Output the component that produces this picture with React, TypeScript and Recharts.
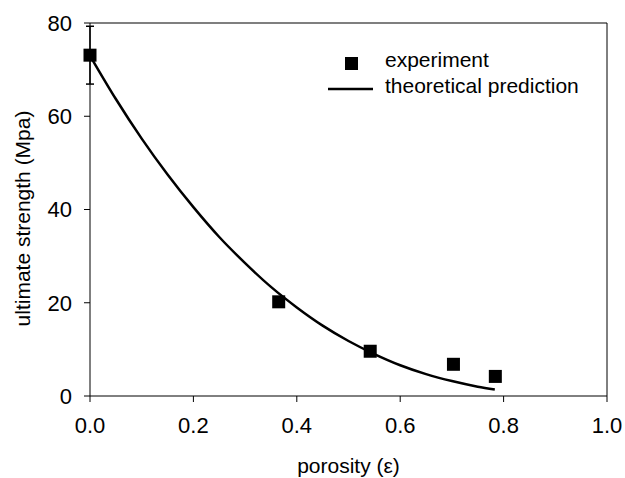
import {
  ComposedChart,
  ErrorBar,
  Label,
  Legend,
  Line,
  ReferenceLine,
  Scatter,
  XAxis,
  YAxis,
} from "recharts";

const xTicks = [0, 0.2, 0.4, 0.6, 0.8, 1.0];
const yTicks = [0, 20, 40, 60, 80];

// measured points
const experimentPorosity = [0, 0.365, 0.542, 0.703, 0.784];
const experimentStrength = [73.1, 20.2, 9.6, 6.8, 4.2];
const experimentError = [6.2, 0, 0, 0, 0];

// model curve
const predictionPorosity = [
  0, 0.05, 0.1, 0.15, 0.2, 0.25, 0.3, 0.35, 0.4, 0.45, 0.5, 0.55, 0.6, 0.65, 0.7, 0.75, 0.783,
];
const predictionStrength = [
  73, 63.7, 55.2, 47.5, 40.5, 34.1, 28.5, 23.4, 19.0, 15.1, 11.8, 9.0, 6.6, 4.7, 3.2, 2.0, 1.4,
];

const experiment = experimentPorosity.map((x, i) => ({
  x,
  y: experimentStrength[i],
  err: experimentError[i],
}));

const prediction = predictionPorosity.map((x, i) => ({ x, y: predictionStrength[i] }));

const font = "'Liberation Sans', Arial, sans-serif";
const tickStyle = { fill: "#000", fontSize: 22, fontFamily: font };

function SquareShape(props: any) {
  const { cx, cy } = props;
  if (cx == null || cy == null) return null;
  return <rect x={cx - 6.5} y={cy - 6.5} width={13} height={13} fill="#000" />;
}

function XTitle(props: any) {
  const vb = props.viewBox || { x: 90, y: 396, width: 517, height: 82 };
  return (
    <text x={vb.x + vb.width / 2} y={vb.y + 77} textAnchor="middle" fill="#000" fontSize={21} fontFamily={font}>
      porosity (ε)
    </text>
  );
}

function YTitle(props: any) {
  const vb = props.viewBox || { x: 0, y: 23, width: 90, height: 373 };
  const cx = vb.x + 30;
  const cy = vb.y + vb.height / 2 + 9;
  return (
    <text
      x={cx}
      y={cy}
      transform={`rotate(-90 ${cx} ${cy})`}
      textAnchor="middle"
      fill="#000"
      fontSize={21}
      fontFamily={font}
    >
      ultimate strength (Mpa)
    </text>
  );
}

function LegendBox() {
  return (
    <svg width={270} height={56} style={{ display: "block" }}>
      <rect x={20} y={9} width={13} height={13} fill="#000" />
      <text x={60} y={19} fill="#000" fontSize={21} fontFamily={font}>
        experiment
      </text>
      <line x1={3} x2={48} y1={41} y2={41} stroke="#000" strokeWidth={2.5} />
      <text x={60} y={45} fill="#000" fontSize={21} fontFamily={font}>
        theoretical prediction
      </text>
    </svg>
  );
}

export default function App() {
  return (
    <div style={{ width: 625, height: 478, background: "#fff" }}>
      <style>{"body{margin:0;overflow:hidden}"}</style>
      <ComposedChart width={625} height={478} margin={{ top: 23, right: 18, left: 0, bottom: 0 }}>
        <XAxis
          type="number"
          dataKey="x"
          domain={[0, 1]}
          ticks={xTicks}
          interval={0}
          tickFormatter={(v: number) => v.toFixed(1)}
          height={82}
          tickSize={6}
          tickMargin={15}
          tick={tickStyle}
          axisLine={{ stroke: "#000" }}
          tickLine={{ stroke: "#000" }}
        >
          <Label content={XTitle} />
        </XAxis>
        <YAxis
          type="number"
          dataKey="y"
          domain={[0, 80]}
          ticks={yTicks}
          interval={0}
          width={90}
          tickSize={6}
          tickMargin={12}
          tick={tickStyle}
          axisLine={{ stroke: "#000" }}
          tickLine={{ stroke: "#000" }}
        >
          <Label content={YTitle} />
        </YAxis>
        <ReferenceLine y={80} stroke="#555" strokeWidth={1.5} />
        <ReferenceLine x={1} stroke="#000" strokeWidth={1} />
        <Line
          data={prediction}
          dataKey="y"
          type="monotone"
          stroke="#000"
          strokeWidth={2.5}
          dot={false}
          activeDot={false}
          isAnimationActive={false}
        />
        <Scatter data={experiment} dataKey="y" fill="#000" shape={SquareShape} isAnimationActive={false}>
          <ErrorBar dataKey="err" direction="y" width={4} stroke="#000" strokeWidth={1.5} isAnimationActive={false} />
        </Scatter>
        <Legend
          layout="vertical"
          align="center"
          verticalAlign="middle"
          content={LegendBox}
          wrapperStyle={{ left: 325, top: 48, width: 270, height: 56 }}
        />
      </ComposedChart>
    </div>
  );
}
